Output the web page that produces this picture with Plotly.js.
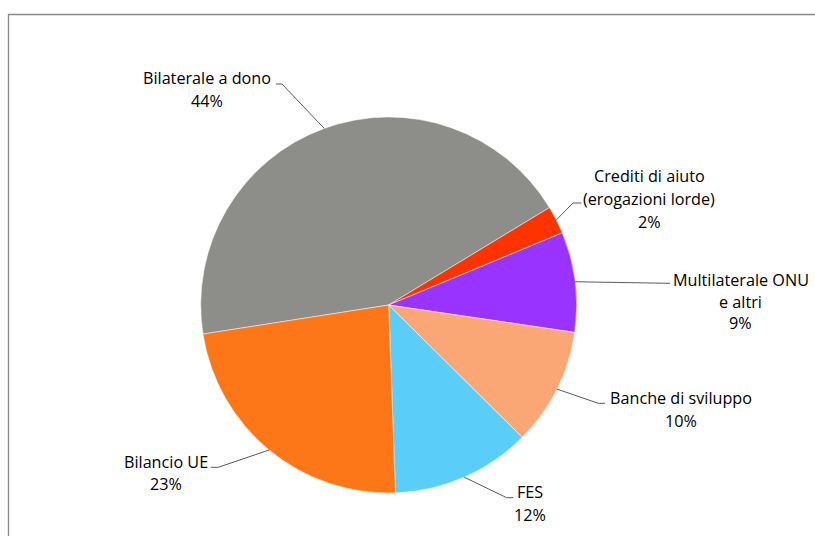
<!DOCTYPE html>
<html>
<head>
<meta charset="utf-8">
<script src="https://cdn.plot.ly/plotly-3.0.1.min.js"></script>
<style>html,body{margin:0;padding:0;background:#fff;}#chart{width:815px;height:536px;}</style>
</head>
<body>
<div id="chart"></div>
<script>
// ---- data ----
var labels = ["Bilaterale a dono", "Crediti di aiuto<br>(erogazioni lorde)", "Multilaterale ONU<br>e altri", "Banche di sviluppo", "FES", "Bilancio UE"];
var values = [43.8, 2.4, 8.6, 10.1, 12.0, 23.1];
var colors = ["#8D8D8A", "#FF3300", "#9933FF", "#FAA775", "#5BCDF9", "#FD7618"];

// ---- layout config (pixels) ----
var W = 815, H = 536;
var rotationDeg = -98.9;
var domX = [200.7 / W, 576.7 / W];
var domY = [1 - 493 / H, 1 - 117 / H];
// label placement: elbow point, line end, text centre x, line centre y's
var labelCfg = [
  {elbow: [282, 84], end: [276, 84], tx: 207, ty: [78, 101]},
  {elbow: [573, 203], end: [581.5, 203], tx: 649, ty: [176, 199, 222]},
  {elbow: [670, 283.3], end: [670, 283.3], tx: 740.5, ty: [280, 301.7, 323.3]},
  {elbow: [598.3, 403.3], end: [605, 403.3], tx: 680.5, ty: [397.7, 421]},
  {elbow: [506.7, 497.7], end: [513.3, 497.7], tx: 529.5, ty: [491.7, 515]},
  {elbow: [218.3, 467.3], end: [210.7, 467.3], tx: 165.8, ty: [461.7, 484.3]}
];

function px(x) { return x / W; }
function py(y) { return 1 - y / H; }

var cx = (domX[0] + domX[1]) / 2 * W;
var cy = (1 - (domY[0] + domY[1]) / 2) * H;
var r = Math.min((domX[1] - domX[0]) * W, (domY[1] - domY[0]) * H) / 2;

var total = values.reduce(function (a, b) { return a + b; }, 0);
var shapes = [];
var annotations = [];
var cum = 0;
values.forEach(function (v, i) {
  var mid = (rotationDeg + 360 * (cum + v / 2) / total) * Math.PI / 180;
  cum += v;
  var ex = cx + r * Math.sin(mid), ey = cy - r * Math.cos(mid);
  var c = labelCfg[i];
  shapes.push({
    type: "path", xref: "paper", yref: "paper",
    path: "M " + px(ex) + " " + py(ey) + " L " + px(c.elbow[0]) + " " + py(c.elbow[1]) + " L " + px(c.end[0]) + " " + py(c.end[1]),
    line: {color: "#5a5a5a", width: 1}
  });
  var lines = labels[i].split("<br>");
  lines.push(Math.round(100 * v / total) + "%");
  lines.forEach(function (t, k) {
    annotations.push({
      xref: "paper", yref: "paper", x: px(c.tx), y: py(c.ty[k]),
      xanchor: "center", yanchor: "middle", showarrow: false,
      text: t, font: {family: "'Open Sans', 'Noto Sans', sans-serif", size: 16.2, color: "#000"}
    });
  });
});

// chart area border (partially visible)
shapes.push({
  type: "path", xref: "paper", yref: "paper",
  path: "M " + px(8.5) + " 0 L " + px(8.5) + " " + py(14.5) + " L 1 " + py(14.5),
  line: {color: "#8a8a8a", width: 1.3}
});

var trace = {
  type: "pie",
  labels: labels,
  values: values,
  sort: false,
  direction: "clockwise",
  rotation: rotationDeg,
  marker: {colors: colors, line: {color: "#ffffff", width: 0.5}},
  textinfo: "none",
  hoverinfo: "label+percent",
  domain: {x: domX, y: domY},
  showlegend: false
};

Plotly.newPlot("chart", [trace], {
  width: W, height: H,
  margin: {l: 0, r: 0, t: 0, b: 0},
  paper_bgcolor: "#ffffff",
  showlegend: false,
  shapes: shapes,
  annotations: annotations
}, {staticPlot: true});
</script>
</body>
</html>
